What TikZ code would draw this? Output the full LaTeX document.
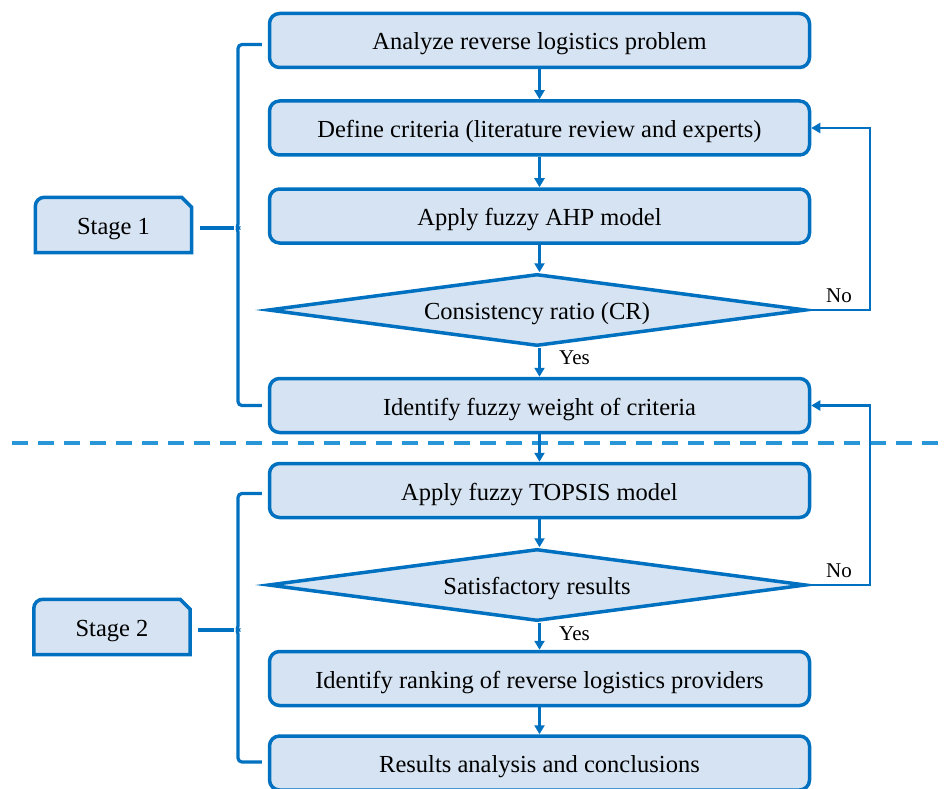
\documentclass[tikz,border=0pt]{standalone}
\usepackage{fontspec}
\setmainfont{Liberation Serif}
\usetikzlibrary{arrows.meta,shapes.geometric,calc}
\definecolor{bblue}{RGB}{0,112,192}
\definecolor{bfill}{RGB}{214,227,242}
\definecolor{dblue}{RGB}{40,150,215}
\begin{document}
\begin{tikzpicture}[x=1pt,y=-1pt,
  txt/.style={font=\fontsize{24.5}{28}\selectfont, text=black, text height=22pt, text depth=3pt},
  box/.style={txt, draw=bblue, fill=bfill, line width=3.5pt, rounded corners=10pt,
    minimum width=540pt, minimum height=54pt, inner sep=0pt},
  dec/.style={txt, draw=bblue, fill=bfill, line width=3.5pt, diamond, aspect=7.6,
    minimum width=538pt, minimum height=72pt, inner sep=0pt},
  stagebox/.style={txt, minimum width=156pt, minimum height=55pt, inner sep=0pt},
  stageshape/.style={draw=bblue, fill=bfill, line width=3.5pt},
  arr/.style={draw=bblue, line width=2.8pt, -{Triangle[width=10pt,length=9pt]}},
  brk/.style={draw=bblue, line width=3.2pt},
  lbl/.style={font=\fontsize{21}{24}\selectfont, text=black, inner sep=0pt}
]
\useasboundingbox (0,0) rectangle (948,789);

% main flow
\node[box] (b1) at (539.5,40.5) {Analyze reverse logistics problem};
\node[box] (b2) at (539.5,128) {Define criteria (literature review and experts)};
\node[box] (b3) at (539.5,216) {Apply fuzzy AHP model};
\node[dec] (d1) at (537,310) {Consistency ratio (CR)};
\node[box] (b5) at (539.5,405.5) {Identify fuzzy weight of criteria};
\node[box] (b6) at (539.5,490.5) {Apply fuzzy TOPSIS model};
\node[dec] (d2) at (537,585) {Satisfactory results};
\node[box] (b8) at (539.5,678.5) {Identify ranking of reverse logistics providers};
\node[box] (b9) at (539.5,763) {Results analysis and conclusions};

% separator
\draw[dblue, line width=3.5pt, dash pattern=on 16pt off 10pt] (12,443) -- (948,443);

% arrows
\draw[arr] (b1) -- (b2);
\draw[arr] (b2) -- (b3);
\draw[arr] (b3.south) -- (b3.south |- d1.north);
\draw[arr] (b5.south |- d1.south) -- (b5.north);
\draw[arr] (b5) -- (b6);
\draw[arr] (b6.south) -- (b6.south |- d2.north);
\draw[arr] (b8.north |- d2.south) -- (b8.north);
\draw[arr] (b8) -- (b9);

% feedback loops
\coordinate (r1) at (870,310);
\coordinate (r2) at (870,585);
\draw[arr] (d1.east) -- (r1) -- (r1 |- b2.east) -- (b2.east);
\draw[arr] (d2.east) -- (r2) -- (r2 |- b5.east) -- (b5.east);

% labels
\node[lbl, anchor=south west] (no1) at (826,303) {No};
\node[lbl, anchor=south west] (no2) at (826,578) {No};
\node[lbl, anchor=west] (yes1) at (559,358) {Yes};
\node[lbl, anchor=west] (yes2) at (559,634) {Yes};

% stage boxes
\node[stagebox] (s1) at (113.5,225) {};
\path[stageshape] (s1.south west) [rounded corners=9pt] -- (s1.north west)
  [sharp corners] -- ($(s1.north east)+(-10,0)$) -- ($(s1.north east)+(0,10)$)
  -- (s1.south east) -- cycle;
\node[txt] at (s1) {Stage 1};
\node[stagebox] (s2) at (112,627) {};
\path[stageshape] (s2.south west) [rounded corners=9pt] -- (s2.north west)
  [sharp corners] -- ($(s2.north east)+(-10,0)$) -- ($(s2.north east)+(0,10)$)
  -- (s2.south east) -- cycle;
\node[txt] at (s2) {Stage 2};

% brackets
\coordinate (k1) at (234,228);
\coordinate (k2) at (234,630);
\draw[brk] ($(s1.east)+(8,3)$) -- (k1);
\draw[brk] ($(s2.east)+(8,3)$) -- (k2);
\draw[brk, rounded corners=4pt] ($(b1.west)+(-6,4)$) -- (238,44.5) -- (238,220)
  .. controls (238,226) and (236,228) .. (k1)
  .. controls (236,228) and (238,230) .. (238,236) -- (238,405.5) -- ($(b5.west)+(-6,0)$);
\draw[brk, rounded corners=4pt] ($(b6.west)+(-6,3)$) -- (238,493.5) -- (238,622)
  .. controls (238,628) and (236,630) .. (k2)
  .. controls (236,630) and (238,632) .. (238,638) -- (238,762) -- ($(b9.west)+(-6,-1)$);
\end{tikzpicture}
\end{document}
